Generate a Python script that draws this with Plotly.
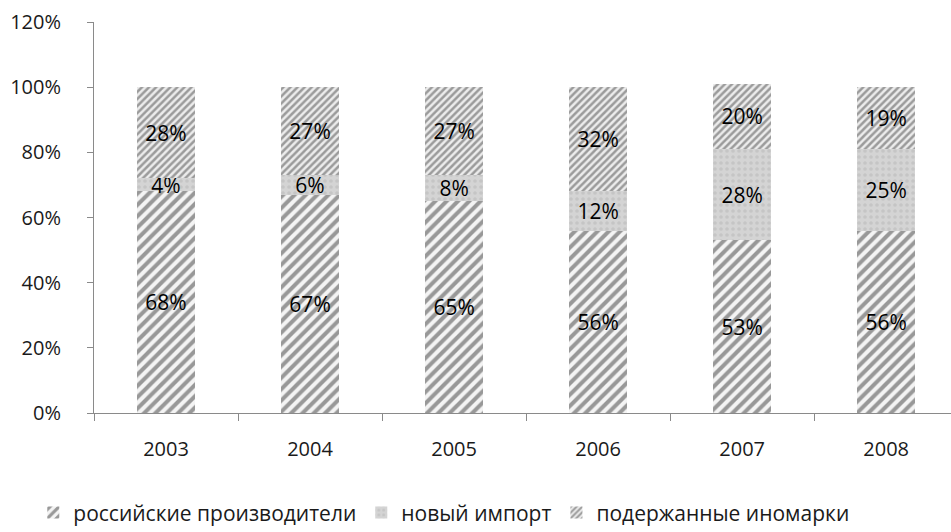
import plotly.graph_objects as go

years = ["2003", "2004", "2005", "2006", "2007", "2008"]
russian = [68, 67, 65, 56, 53, 56]
new_import = [4, 6, 8, 12, 28, 25]
used_foreign = [28, 27, 27, 32, 20, 19]
y_ticks = [0, 20, 40, 60, 80, 100, 120]
y_tick_labels = ["0%", "20%", "40%", "60%", "80%", "100%", "120%"]

FONT = "Open Sans"

def labels(vals):
    return [f"{v}%" for v in vals]

fig = go.Figure()
fig.add_bar(
    x=years, y=russian, name="российские производители", text=labels(russian),
    marker=dict(color="white", line=dict(width=0),
                pattern=dict(shape="/", fgcolor="#3c3c3c", bgcolor="#f4f4f4",
                             size=8, solidity=0.5)),
)
fig.add_bar(
    x=years, y=new_import, name="новый импорт", text=labels(new_import),
    marker=dict(color="#cccccc", line=dict(width=0),
                pattern=dict(shape=".", fgcolor="#b5b5b5", bgcolor="#d4d4d4",
                             size=6, solidity=0.3)),
)
fig.add_bar(
    x=years, y=used_foreign, name="подержанные иномарки", text=labels(used_foreign),
    marker=dict(color="white", line=dict(width=0),
                pattern=dict(shape="/", fgcolor="#4a4a4a", bgcolor="#ececec",
                             size=5, solidity=0.5)),
)
fig.update_traces(
    width=0.40,
    textposition="inside",
    insidetextanchor="middle",
    textfont=dict(family=FONT, size=21, color="black"),
    constraintext="none",
    hoverinfo="skip",
)
fig.update_layout(
    barmode="stack",
    width=951, height=532,
    margin=dict(l=94, r=0, t=22, b=119, autoexpand=False),
    paper_bgcolor="white", plot_bgcolor="white",
    font=dict(family=FONT, size=20, color="#1a1a1a"),
    uniformtext=dict(minsize=21, mode="show"),
    showlegend=True,
    legend=dict(orientation="h", x=0.035, xref="container", xanchor="left",
                y=0.036, yref="container", yanchor="middle",
                font=dict(family=FONT, size=21, color="#1a1a1a"),
                itemwidth=30, tracegroupgap=0, traceorder="normal"),
)
fig.update_xaxes(
    type="category", range=[-0.5, 5.45],
    showline=True, linecolor="#8a8a8a", linewidth=1,
    ticks="outside", tickson="boundaries", ticklen=7, tickcolor="#8a8a8a",
    ticklabelstandoff=18, showgrid=False,
    tickfont=dict(family=FONT, size=20, color="#1a1a1a"),
)
fig.update_yaxes(
    range=[0, 120], tickvals=y_ticks, ticktext=y_tick_labels,
    showline=True, linecolor="#8a8a8a", linewidth=1,
    ticks="outside", ticklen=6, tickcolor="#8a8a8a",
    ticklabelstandoff=22, showgrid=False, zeroline=False,
    tickfont=dict(family=FONT, size=20, color="#1a1a1a"),
)
fig.write_html("out.html")
